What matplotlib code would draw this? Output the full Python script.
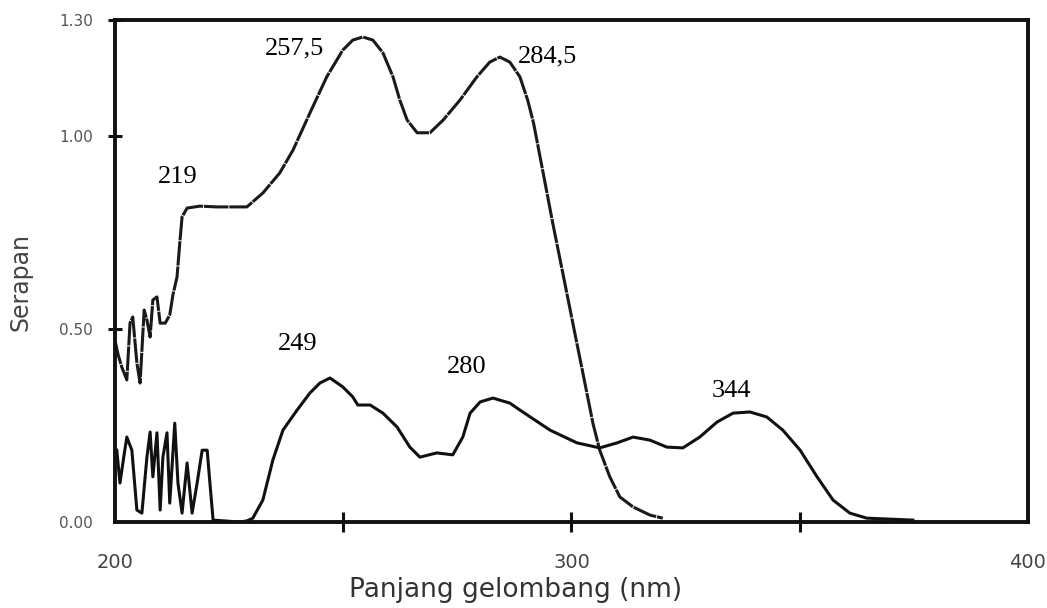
import matplotlib
matplotlib.use("Agg")
from matplotlib import pyplot as plt

# spektrum atas (ekstrak 1)
atas_nm = [200.0, 200.7, 201.5, 202.6, 203.3, 203.9, 204.8, 205.5, 206.4, 207.0,
           207.7, 208.3, 209.2, 209.9, 211.0, 212.0, 212.7, 213.6, 214.2, 214.7,
           215.8, 218.6, 222.3, 228.9, 232.4, 236.1, 239.0, 242.7, 246.4, 249.9,
           252.1, 254.3, 256.5, 258.7, 260.9, 262.4, 264.0, 266.2, 269.0, 271.9,
           275.6, 279.3, 282.1, 284.3, 286.5, 288.7, 290.4, 291.7, 293.8, 295.9,
           298.1, 300.3, 302.5, 304.7, 306.2, 308.4, 310.6, 313.5, 317.2, 320.0]
atas_abs = [0.471, 0.433, 0.401, 0.368, 0.515, 0.531, 0.412, 0.360, 0.549, 0.523,
            0.479, 0.575, 0.583, 0.515, 0.515, 0.536, 0.588, 0.635, 0.723, 0.790,
            0.813, 0.818, 0.816, 0.816, 0.852, 0.904, 0.963, 1.059, 1.153, 1.222,
            1.248, 1.256, 1.248, 1.215, 1.153, 1.093, 1.041, 1.008, 1.008, 1.041,
            1.093, 1.153, 1.191, 1.204, 1.191, 1.153, 1.093, 1.033, 0.904, 0.774,
            0.645, 0.515, 0.386, 0.256, 0.186, 0.117, 0.065, 0.039, 0.018, 0.010]

# spektrum bawah (ekstrak 2)
bawah_nm = [200.4, 201.1, 202.0, 202.6, 203.7, 204.8, 205.9, 207.0, 207.7, 208.3,
            209.2, 209.9, 210.5, 211.4, 212.0, 213.1, 213.8, 214.7, 215.8, 216.9,
            218.0, 219.1, 220.2, 220.8, 221.5, 227.4, 228.9, 230.2, 232.4, 234.6,
            236.8, 239.9, 242.7, 244.9, 247.1, 249.9, 252.1, 253.2, 255.9, 258.7,
            261.8, 264.6, 266.8, 270.5, 274.0, 276.2, 277.8, 280.0, 282.8, 286.5,
            288.7, 295.3, 301.2, 306.2, 310.0, 313.5, 317.2, 320.9, 324.4, 328.1,
            331.9, 335.4, 339.1, 342.8, 346.3, 350.1, 353.8, 357.3, 361.0, 364.7,
            374.8]
bawah_abs = [0.186, 0.101, 0.174, 0.220, 0.186, 0.031, 0.023, 0.168, 0.233, 0.117,
             0.231, 0.031, 0.168, 0.231, 0.049, 0.256, 0.101, 0.023, 0.153, 0.023,
             0.101, 0.186, 0.186, 0.101, 0.005, 0.000, 0.003, 0.010, 0.057, 0.161,
             0.238, 0.290, 0.334, 0.360, 0.373, 0.350, 0.324, 0.303, 0.303, 0.282,
             0.246, 0.194, 0.168, 0.179, 0.174, 0.220, 0.282, 0.311, 0.321, 0.308,
             0.290, 0.238, 0.205, 0.192, 0.205, 0.220, 0.212, 0.194, 0.192, 0.220,
             0.259, 0.282, 0.285, 0.272, 0.238, 0.186, 0.117, 0.057, 0.023, 0.010,
             0.005]

# label puncak
puncak_teks = ["257,5", "284,5", "219", "249", "280", "344"]
puncak_x = [232.9, 288.3, 209.4, 235.7, 272.7, 330.8]
puncak_y = [1.210, 1.189, 0.878, 0.445, 0.386, 0.324]

fig = plt.figure(figsize=(10.47, 6.08), dpi=100)
ax = fig.add_axes([0.1098, 0.1414, 0.8720, 0.8257])

ax.plot(atas_nm, atas_abs, color="#1a1a1a", linewidth=2.2, dashes=(8, 0.3),
        solid_joinstyle="round")
ax.plot(bawah_nm, bawah_abs, color="#111111", linewidth=2.2, solid_joinstyle="round")

for teks, x, y in zip(puncak_teks, puncak_x, puncak_y):
    ax.text(x, y, teks, fontsize=19, family="Liberation Serif", color="black",
            ha="left", va="baseline")

ax.set_xlim(200, 400)
ax.set_ylim(0, 1.30)

# minor tick dipakai untuk label, jangan dibuang walau sama dengan major
ax.xaxis.remove_overlapping_locs = False
ax.yaxis.remove_overlapping_locs = False

# tanda tick di sumbu, label di posisi terpisah
ax.set_xticks([250, 300, 350])
ax.set_xticklabels([])
ax.set_xticks([200, 300, 400], minor=True)
ax.set_xticklabels(["200", "300", "400"], minor=True)
ax.tick_params(axis="x", which="major", direction="inout", length=15, width=2.2,
               color="#111111")
ax.tick_params(axis="x", which="minor", length=0, pad=22, labelsize=14,
               labelcolor="#444444")

ax.set_yticks([0.5, 1.0, 1.3])
ax.set_yticklabels([])
ax.set_yticks([0.0, 0.5, 1.0, 1.3], minor=True)
ax.set_yticklabels(["0.00", "0.50", "1.00", "1.30"], minor=True)
ax.tick_params(axis="y", which="major", direction="inout", length=10, width=2.2,
               color="#111111")
ax.tick_params(axis="y", which="minor", length=0, pad=16, labelsize=11,
               labelcolor="#555555")

for s in ax.spines.values():
    s.set_linewidth(2.8)
    s.set_color("#111111")

ax.set_xlabel("Panjang gelombang (nm)", fontsize=19, color="#333333")
ax.xaxis.set_label_coords(0.439, -0.110)
ax.set_ylabel("Serapan", fontsize=17, color="#444444")
ax.yaxis.set_label_coords(-0.090, 0.478)

fig.savefig("out.png", dpi=100)
